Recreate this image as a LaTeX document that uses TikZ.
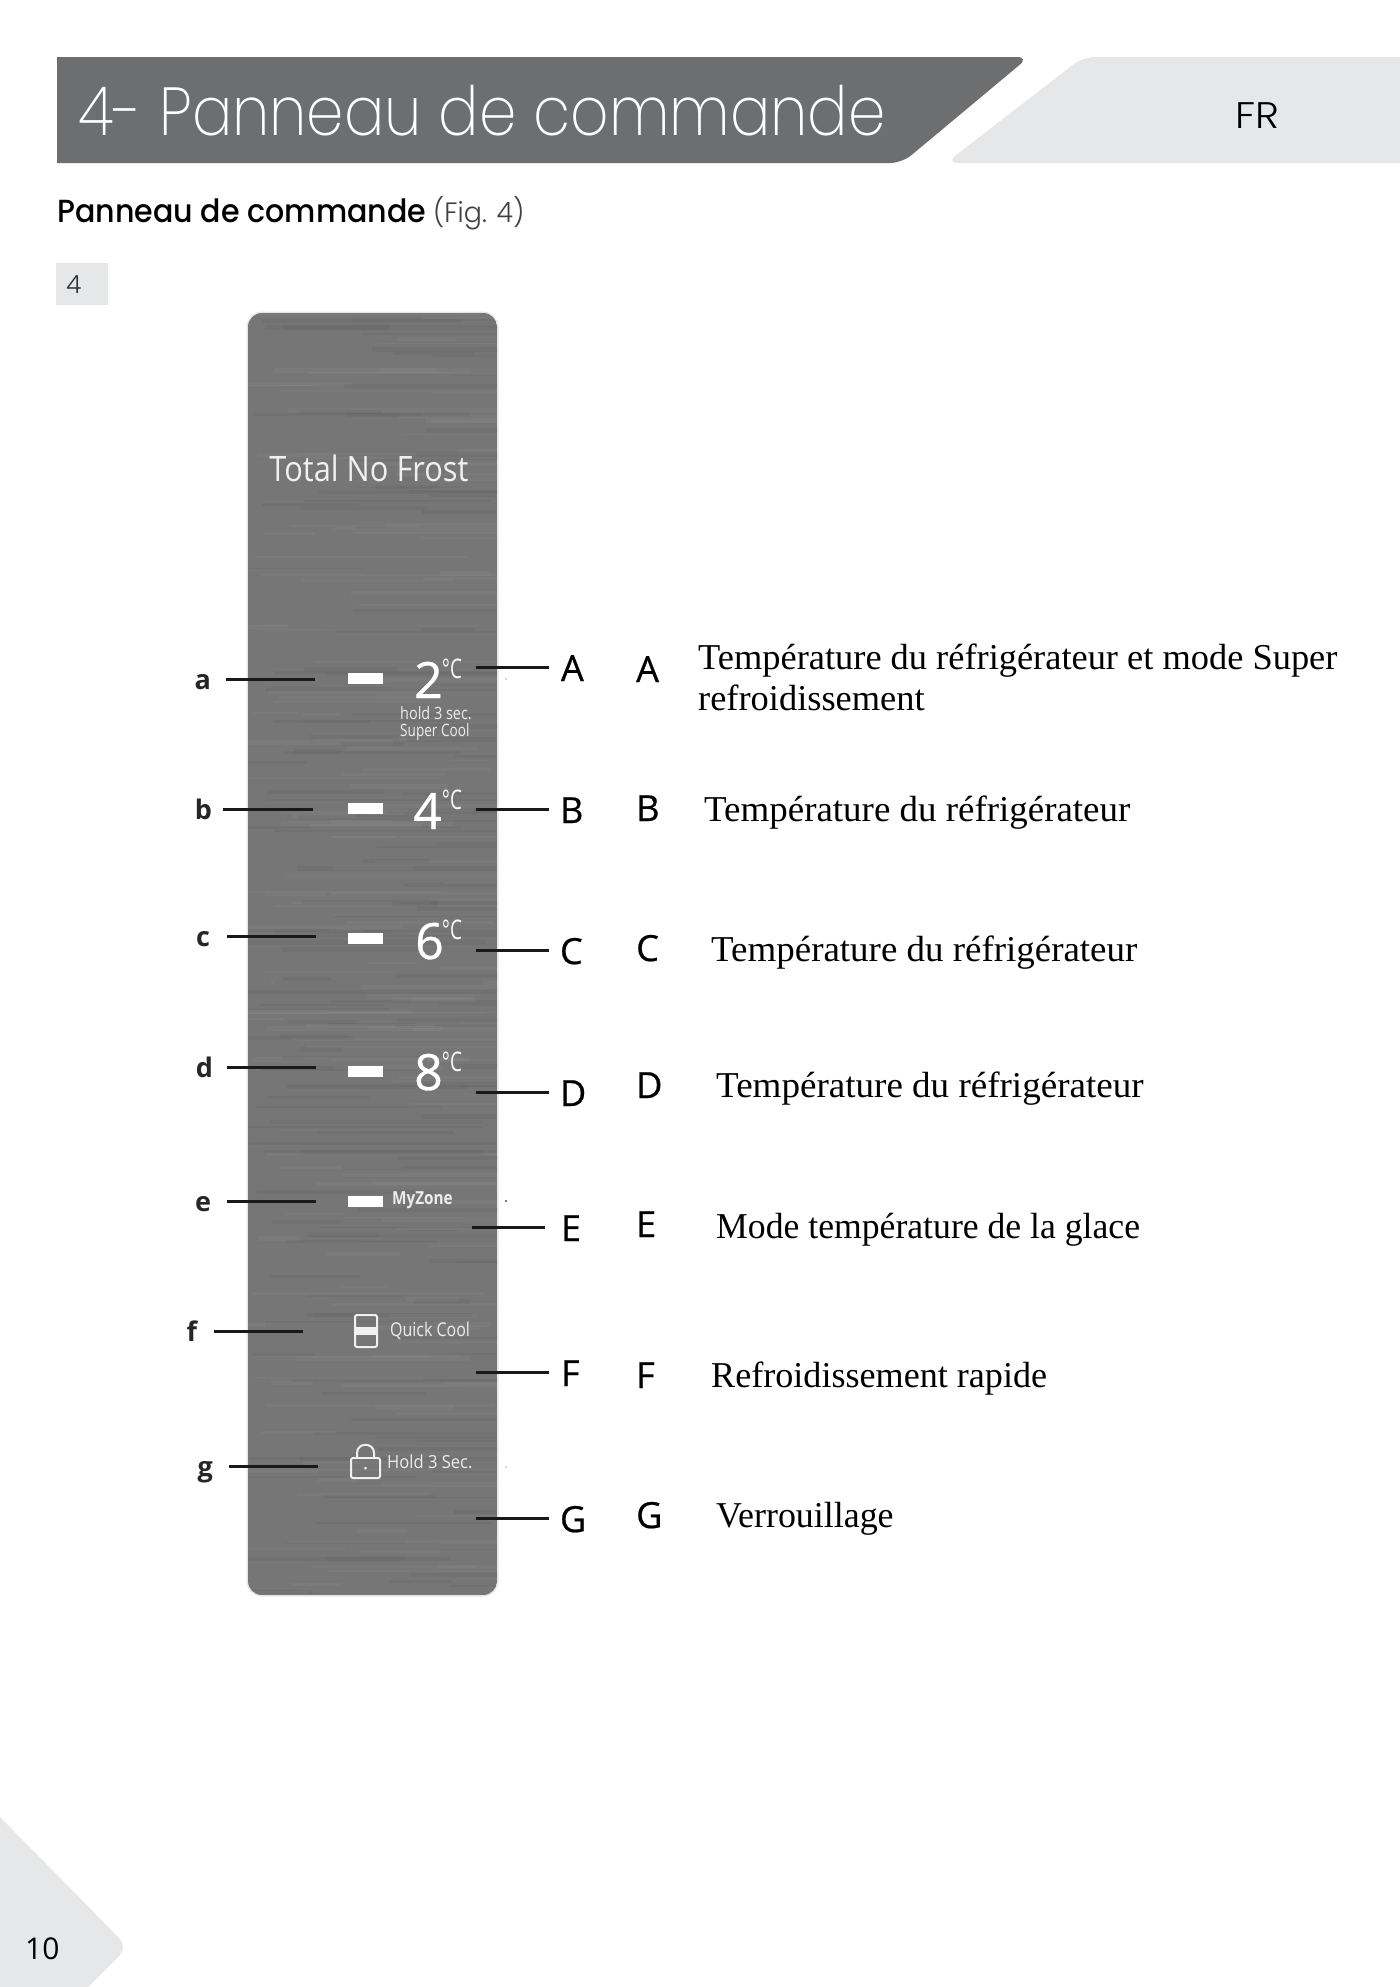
\documentclass[tikz,border=0pt]{standalone}
\usepackage{fontspec}
\setmainfont{Liberation Serif}
\newfontfamily\hdthin{Poppins ExtraLight}
\newfontfamily\hdlight{Poppins Light}
\newfontfamily\hdmed{Poppins Medium}
\newfontfamily\opens{Open Sans}
\newfontfamily\opensb[FakeBold=0.6]{Open Sans}
\newcommand{\fsz}[1]{\fontsize{#1}{#1}\selectfont}
\newcommand{\squeeze}[2]{\scalebox{#1}[1]{#2}}
\definecolor{hdark}{HTML}{6D6E70}
\definecolor{hlight}{HTML}{E6E7E8}
\definecolor{panelgray}{HTML}{767676}
\tikzset{
  conn/.style={line width=3pt,draw=black!90},
  capl/.style={anchor=west,inner ysep=0pt,outer sep=0pt,text height=28pt,text depth=0pt,font=\opensb\fsz{36}},
  sml/.style={anchor=east,inner ysep=0pt,outer sep=0pt,text height=20pt,text depth=0pt,font=\opens\bfseries\fsz{27},text=black!85},
  collet/.style={anchor=base west,inner sep=0pt,font=\opensb\fsz{36}},
  desc/.style={anchor=base west,inner sep=0pt,font=\fsz{36.4}},
  digit/.style={anchor=base west,inner sep=0pt,text=white,font=\opensb\fsz{50}},
  degc/.style={anchor=center,inner sep=0pt,text=white!95!gray,font=\opens\fsz{27}},
  dashbar/.style={fill=white,draw=none,minimum width=35pt,minimum height=11pt,inner sep=0pt},
  pantext/.style={anchor=west,inner sep=0pt,text=white!85!gray,font=\opens\fsz{17}},
}
\begin{document}
\begin{tikzpicture}[x=1pt,y=-1pt]
\useasboundingbox (0,0) rectangle (1400,1987);
\fill[white] (0,0) rectangle (1400,1987);
% header shapes
\fill[hdark] (57,163) -- (57,57) [rounded corners=12pt] -- (1029,57) -- (902,163) [sharp corners] -- cycle;
\fill[hlight] (1400,163) [rounded corners=12pt] -- (946,163) -- (1083,57) [sharp corners] -- (1400,57) -- cycle;
\node[anchor=base west,inner sep=0pt,text=white,font=\hdthin\fsz{68}] (title) at (78,135) {\squeeze{.88}{4- Panneau de commande}};
\node[anchor=base,inner sep=0pt,font=\hdlight\fsz{37}] (fr) at (1257,128) {\squeeze{1.1}{FR}};
\node[anchor=base west,inner sep=0pt,font=\hdmed\fsz{32}] (sub) at (57,222) {\squeeze{.94}{Panneau de commande}};
\node[anchor=base west,inner sep=0pt,font=\hdlight\fsz{28},text=black!75] (fig) at (433,222) {\squeeze{.96}{(Fig. 4)}};
\node[fill=hlight,minimum width=52pt,minimum height=42pt,inner sep=0pt] (figbox) at (82,284) {};
\node[anchor=base west,inner sep=0pt,font=\hdlight\fsz{25},text=black!80] (fignum) at (66,293) {4};
% corner
\fill[hlight] (0,1817) [rounded corners=12pt] -- (128,1947) [sharp corners] -- (88,1987) -- (0,1987) -- cycle;
\node[anchor=base west,inner sep=0pt,font=\opens\fsz{30}] (pagenum) at (25,1959) {10};
% panel
\draw[rounded corners=14pt,draw=black!10,line width=3pt] (248,313) rectangle (497,1595);
\begin{scope}
\path[clip,rounded corners=14pt] (248,313) rectangle (497,1595);
\fill[panelgray] (248,313) rectangle (497,1595);
\pgfmathsetseed{7}
\foreach \i in {1,...,320}{
  \pgfmathsetmacro\yy{313+rnd*1282}
  \pgfmathsetmacro\xx{230+rnd*230}
  \pgfmathsetmacro\ll{40+rnd*220}
  \pgfmathsetmacro\lw{1+rnd*4}
  \pgfmathparse{rnd<0.5 ? "white" : "black"}
  \edef\cc{\pgfmathresult}
  \draw[draw=\cc,opacity=0.035,line width=\lw pt] (\xx,\yy) -- (\xx+\ll,\yy);
}
\end{scope}
\node[anchor=center,inner sep=0pt,text=white!88!gray,font=\opens\fsz{35}] (brand) at (369,468) {\squeeze{.88}{Total No Frost}};
% display rows
\node[dashbar] (d1) at (365.5,678) {};
\node[dashbar] (d2) at (365.5,808) {};
\node[dashbar] (d3) at (365.5,938) {};
\node[dashbar] (d4) at (365.5,1071) {};
\node[dashbar] (d5) at (365.5,1201) {};
\node[digit] (n2) at (414,698) {2};
\node[digit] (n4) at (413,829) {4};
\node[digit] (n6) at (415,959) {6};
\node[digit] (n8) at (414,1090) {8};
\node[degc] (c2) at (452,669) {\squeeze{.7}{°C}};
\node[degc] (c4) at (452,800) {\squeeze{.7}{°C}};
\node[degc] (c6) at (452,930) {\squeeze{.7}{°C}};
\node[degc] (c8) at (452,1062) {\squeeze{.7}{°C}};
\node[pantext] (hold) at (400,713) {\squeeze{.85}{hold 3 sec.}};
\node[pantext] (super) at (400,732) {\squeeze{.8}{Super Cool}};
\node[pantext,font=\opens\bfseries\fsz{18}] (myzone) at (392,1200) {\squeeze{.85}{MyZone}};
\node[pantext,font=\opens\fsz{19}] (quick) at (390,1331) {\squeeze{.84}{Quick Cool}};
\node[pantext,font=\opens\fsz{18}] (holdsec) at (387,1462) {\squeeze{.92}{Hold 3 Sec.}};
% quick cool icon
\draw[white!88!gray,line width=2pt,rounded corners=2pt] (355,1315) rectangle (377,1347);
\fill[white!88!gray] (355,1327) rectangle (377,1335);
% lock icon
\draw[white!88!gray,line width=2pt,rounded corners=2pt] (351,1458) rectangle (380,1478);
\draw[white!88!gray,line width=2pt] (357,1458) -- (357,1453) .. controls (357,1442) and (374,1442) .. (374,1453) -- (374,1458);
\fill[white!88!gray] (365.5,1468) circle[radius=1.5pt];
% stray dots
\fill[black!70] (506,1201) circle[radius=1.2pt];
\fill[black!20] (506,679) circle[radius=1.2pt];
\fill[black!20] (506,1467) circle[radius=1.2pt];
% left labels
\node[sml,inner xsep=15pt] (la) at (226,679) {a};
\node[sml,inner xsep=11pt] (lb) at (223,809) {b};
\node[sml,inner xsep=17pt] (lc) at (227,936) {c};
\node[sml,inner xsep=14pt] (ld) at (227,1067) {d};
\node[sml,inner xsep=16pt] (le) at (227,1201) {e};
\node[sml,inner xsep=17pt] (lf) at (214,1331) {f};
\node[sml,inner xsep=16pt] (lg) at (229,1466) {g};
\coordinate (ea) at (315,679);
\coordinate (eb) at (313,809);
\coordinate (ec) at (316,936);
\coordinate (ed) at (316,1067);
\coordinate (ee) at (316,1201);
\coordinate (ef) at (303,1331);
\coordinate (eg) at (318,1466);
\draw[conn] (la.east) -- (ea);
\draw[conn] (lb.east) -- (eb);
\draw[conn] (lc.east) -- (ec);
\draw[conn] (ld.east) -- (ed);
\draw[conn] (le.east) -- (ee);
\draw[conn] (lf.east) -- (ef);
\draw[conn] (lg.east) -- (eg);
% right labels
\node[capl,inner xsep=12pt] (rA) at (549,667) {A};
\node[capl,inner xsep=11pt] (rB) at (549,809) {B};
\node[capl,inner xsep=11pt] (rC) at (549,950) {C};
\node[capl,inner xsep=11pt] (rD) at (549,1092) {D};
\node[capl,inner xsep=16pt] (rE) at (545,1227) {E};
\node[capl,inner xsep=12pt] (rF) at (549,1372) {F};
\node[capl,inner xsep=11pt] (rG) at (549,1518) {G};
\coordinate (sA) at (476,667);
\coordinate (sB) at (476,809);
\coordinate (sC) at (476,950);
\coordinate (sD) at (476,1092);
\coordinate (sE) at (472,1227);
\coordinate (sF) at (476,1372);
\coordinate (sG) at (476,1518);
\draw[conn] (sA) -- (rA.west);
\draw[conn] (sB) -- (rB.west);
\draw[conn] (sC) -- (rC.west);
\draw[conn] (sD) -- (rD.west);
\draw[conn] (sE) -- (rE.west);
\draw[conn] (sF) -- (rF.west);
\draw[conn] (sG) -- (rG.west);
% description column
\node[collet] (kA) at (636,682) {A};
\node[collet] (kB) at (636,821) {B};
\node[collet] (kC) at (636,961) {C};
\node[collet] (kD) at (636,1098) {D};
\node[collet] (kE) at (636,1237) {E};
\node[collet] (kF) at (636,1388) {F};
\node[collet] (kG) at (636,1528) {G};
\node[desc] (tA) at (698,669) {Température du réfrigérateur et mode Super};
\node[desc] (tA2) at (698,710) {refroidissement};
\node[desc] (tB) at (704,821) {\squeeze{1.015}{Température du réfrigérateur}};
\node[desc] (tC) at (711,961) {\squeeze{1.015}{Température du réfrigérateur}};
\node[desc] (tD) at (716,1097) {\squeeze{1.018}{Température du réfrigérateur}};
\node[desc] (tE) at (716,1238) {\squeeze{.98}{Mode température de la glace}};
\node[desc] (tF) at (711,1387) {\squeeze{.992}{Refroidissement rapide}};
\node[desc] (tG) at (716,1527) {\squeeze{.986}{Verrouillage}};
\end{tikzpicture}
\end{document}
